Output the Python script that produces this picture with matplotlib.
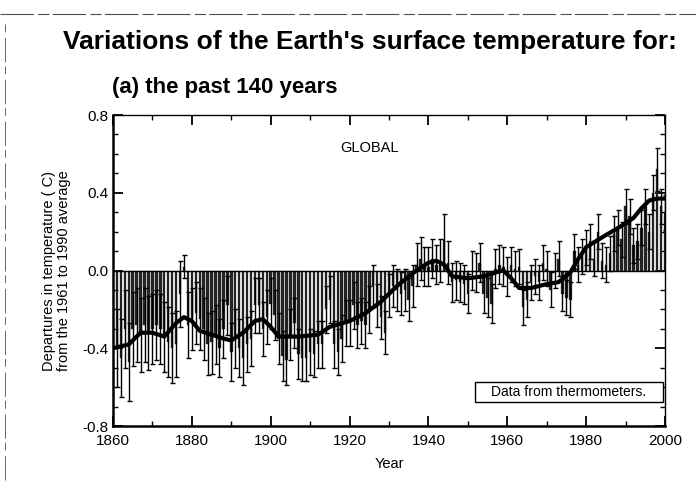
import matplotlib
matplotlib.use("Agg")
import matplotlib.pyplot as plt
from matplotlib.lines import Line2D
from matplotlib.patches import Rectangle
import numpy as np

years = list(range(1861, 2001))
anom = [
    # 1861-1870
    -0.40, -0.45, -0.30, -0.47, -0.30, -0.28, -0.33, -0.28, -0.32, -0.30,
    # 1871-1880
    -0.28, -0.30, -0.34, -0.37, -0.40, -0.38, -0.12, 0.02, -0.28, -0.25,
    # 1881-1890
    -0.22, -0.25, -0.30, -0.38, -0.37, -0.33, -0.40, -0.30, -0.18, -0.42,
    # 1891-1900
    -0.35, -0.40, -0.45, -0.38, -0.35, -0.18, -0.18, -0.30, -0.24, -0.17,
    # 1901-1910
    -0.23, -0.35, -0.44, -0.46, -0.33, -0.27, -0.43, -0.45, -0.45, -0.42,
    # 1911-1920
    -0.43, -0.38, -0.38, -0.20, -0.15, -0.38, -0.42, -0.35, -0.27, -0.27,
    # 1921-1930
    -0.18, -0.28, -0.26, -0.28, -0.20, -0.08, -0.18, -0.24, -0.32, -0.13,
    # 1931-1940
    -0.08, -0.10, -0.12, -0.10, -0.15, -0.08, 0.03, 0.06, 0.02, 0.02,
    # 1941-1950
    0.06, 0.03, 0.05, 0.16, 0.04, -0.06, -0.05, -0.06, -0.07, -0.12,
    # 1951-1960
    0.00, -0.01, 0.04, -0.12, -0.14, -0.17, 0.01, 0.03, 0.02, -0.03,
    # 1961-1970
    0.03, 0.01, 0.02, -0.19, -0.15, -0.06, -0.03, -0.06, 0.04, 0.01,
    # 1971-1980
    -0.10, 0.00, 0.06, -0.12, -0.14, -0.15, 0.10, 0.03, 0.07, 0.12,
    # 1981-1990
    0.15, 0.06, 0.20, 0.05, 0.03, 0.09, 0.19, 0.22, 0.16, 0.33,
    # 1991-2000
    0.28, 0.13, 0.15, 0.22, 0.33, 0.20, 0.40, 0.52, 0.33, 0.30,
]
err = [
    0.20, 0.20, 0.20, 0.20, 0.19, 0.19, 0.19, 0.19, 0.19, 0.18,
    0.18, 0.18, 0.18, 0.18, 0.18, 0.17, 0.17, 0.06, 0.17, 0.16,
    0.16, 0.16, 0.16, 0.16, 0.16, 0.15, 0.15, 0.15, 0.15, 0.15,
    0.15, 0.15, 0.14, 0.14, 0.14, 0.14, 0.14, 0.14, 0.14, 0.13,
    0.13, 0.13, 0.13, 0.13, 0.13, 0.13, 0.13, 0.12, 0.12, 0.12,
    0.12, 0.12, 0.12, 0.12, 0.12, 0.12, 0.12, 0.12, 0.12, 0.12,
    0.12, 0.12, 0.12, 0.12, 0.12, 0.11, 0.11, 0.11, 0.11, 0.11,
    0.11, 0.11, 0.11, 0.11, 0.11, 0.11, 0.11, 0.11, 0.10, 0.10,
    0.10, 0.10, 0.11, 0.13, 0.11, 0.10, 0.10, 0.10, 0.10, 0.10,
    0.10, 0.10, 0.10, 0.10, 0.10, 0.10, 0.10, 0.10, 0.10, 0.10,
    0.09, 0.09, 0.09, 0.09, 0.09, 0.09, 0.09, 0.09, 0.09, 0.09,
    0.09, 0.09, 0.09, 0.09, 0.09, 0.09, 0.09, 0.09, 0.09, 0.09,
    0.09, 0.09, 0.09, 0.09, 0.09, 0.09, 0.09, 0.09, 0.09, 0.09,
    0.09, 0.09, 0.09, 0.09, 0.09, 0.09, 0.09, 0.11, 0.09, 0.09,
]
smooth_years = [1860, 1864, 1867, 1870, 1873, 1876, 1878, 1880, 1882, 1885,
                1888, 1890, 1893, 1896, 1898, 1900, 1902, 1907, 1912, 1915,
                1920, 1924, 1928, 1932, 1935, 1937, 1940, 1942, 1944, 1946,
                1950, 1954, 1957, 1959, 1961, 1963, 1966, 1970, 1973, 1976,
                1978, 1980, 1984, 1989, 1992, 1994, 1996, 1998, 2000]
smooth_vals = [-0.40, -0.38, -0.32, -0.32, -0.34, -0.27, -0.24, -0.26, -0.31, -0.33,
               -0.35, -0.36, -0.32, -0.26, -0.25, -0.29, -0.34, -0.34, -0.33, -0.29,
               -0.26, -0.22, -0.16, -0.08, -0.03, 0.00, 0.04, 0.05, 0.03, -0.03,
               -0.04, -0.03, -0.01, 0.00, -0.04, -0.09, -0.09, -0.07, -0.06, -0.01,
               0.06, 0.12, 0.17, 0.23, 0.27, 0.32, 0.36, 0.37, 0.37]

plt.rcParams['font.family'] = ['Liberation Sans', 'DejaVu Sans']

W, H = 696, 490
fig = plt.figure(figsize=(W / 100, H / 100), dpi=100)
# axes box in pixels: x 113..665, y 115..426 (from top)
ax = fig.add_axes([113 / W, 1 - 426 / H, (665 - 113) / W, (426 - 115) / H])

ax.bar(years, anom, width=0.62, color='0.15', edgecolor='0.05', linewidth=0.2, zorder=2)
ax.errorbar(years, anom, yerr=err, fmt='none', ecolor='black', elinewidth=1.0,
            capsize=1.8, capthick=1.0, zorder=3)
ax.plot(smooth_years, smooth_vals, color='black', linewidth=3.0, zorder=4,
        solid_joinstyle='round', solid_capstyle='round')
ax.axhline(0, color='black', linewidth=1.0, zorder=3)

ax.set_xlim(1860, 2000)
ax.set_ylim(-0.8, 0.8)
ax.set_xticks([1860, 1880, 1900, 1920, 1940, 1960, 1980, 2000])
ax.set_xticks(np.arange(1870, 2000, 20), minor=True)
ax.set_yticks([-0.8, -0.4, 0.0, 0.4, 0.8])
ax.set_yticklabels(['-0.8', '-0.4', '0.0', '0.4', '0.8'])
ax.set_yticks(np.arange(-0.7, 0.8, 0.1), minor=True)
ax.tick_params(which='both', direction='in', top=True, right=True, labelsize=11)
ax.tick_params(axis='x', which='major', pad=6)
ax.tick_params(which='major', length=7, width=1.3)
ax.tick_params(which='minor', length=3.5, width=1.0)
for s in ['left', 'bottom']:
    ax.spines[s].set_linewidth(1.8)
for s in ['top', 'right']:
    ax.spines[s].set_linewidth(1.0)

ax.set_xlabel('Year', fontsize=10.5, labelpad=6)
ax.set_ylabel('Departures in temperature ( C)\nfrom the 1961 to 1990 average', fontsize=10.5,
              linespacing=1.05, labelpad=8)

ax.text(1925, 0.63, 'GLOBAL', fontsize=10.5, ha='center', va='center')
ax.add_patch(Rectangle((0.656, 0.077), 0.34, 0.065, transform=ax.transAxes,
                       facecolor='white', edgecolor='black', linewidth=1.0, zorder=6))
ax.text(0.826, 0.109, 'Data from thermometers.', transform=ax.transAxes, fontsize=10,
        ha='center', va='center', zorder=7)

title = fig.text(370 / W, 1 - 42 / H, "Variations of the Earth's surface temperature for:",
                 fontsize=19, fontweight='bold', ha='center', va='center')
sub = fig.text(112 / W, 1 - 88 / H, '(a) the past 140 years', fontsize=16, fontweight='bold',
               ha='left', va='center')

# fit title width to the reference span
fig.canvas.draw()
r = fig.canvas.get_renderer()
tw = title.get_window_extent(r).width
title.set_fontsize(19 * 615 / tw)

# scanned page border fragments
fig.add_artist(Line2D([0.0, 1.0], [1 - 14 / H, 1 - 14 / H], transform=fig.transFigure,
                      color='0.3', linewidth=0.8, linestyle=(0, (30, 4, 10, 3))))
fig.add_artist(Line2D([5 / W, 5 / W], [0.02, 1 - 22 / H], transform=fig.transFigure,
                      color='0.4', linewidth=0.7, linestyle=(0, (25, 6, 8, 4))))

fig.savefig('out.png', dpi=100)
